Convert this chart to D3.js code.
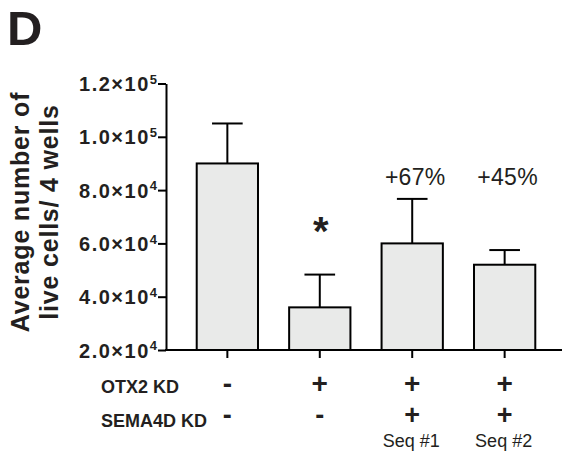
<!DOCTYPE html>
<html>
<head>
<meta charset="utf-8">
<script src="https://cdn.jsdelivr.net/npm/d3@7"></script>
<style>
  html, body { margin: 0; padding: 0; background: #fff; }
  svg { display: block; font-family: "Liberation Sans", Arial, Helvetica, sans-serif; }
</style>
</head>
<body>
<svg id="chart" width="562" height="453"></svg>
<script>
// ---- data ----
const categories = ["Control", "OTX2 KD", "OTX2+SEMA4D Seq1", "OTX2+SEMA4D Seq2"];
const means = [90000, 36000, 60000, 52000];
const errors = [15000, 12300, 16700, 5500];
const tickValues = [20000, 40000, 60000, 80000, 100000, 120000];
const tickMantissa = ["2.0", "4.0", "6.0", "8.0", "1.0", "1.2"];
const tickExponent = ["4", "4", "4", "4", "5", "5"];
const otx2Row = ["-", "+", "+", "+"];
const sema4dRow = ["-", "-", "+", "+"];
const seqLabels = ["", "", "Seq #1", "Seq #2"];
const pctLabels = ["", "", "+67%", "+45%"];
const sigLabels = ["", "*", "", ""];
const rowLabels = ["OTX2 KD", "SEMA4D KD"];
const yTitle = ["Average number of", "live cells/ 4 wells"];
const panelLetter = "D";

// ---- layout ----
const svg = d3.select("#chart");
const axisX = 166;
const ink = "#231f20";
const y = d3.scaleLinear().domain([20000, 120000]).range([350, 83.5]);
const x = d3.scaleBand().domain(categories).range([181, 551]).paddingInner(0.337).paddingOuter(0.17);
const cx = c => x(c) + x.bandwidth() / 2;

// panel letter
svg.append("text").attr("x", 7).attr("y", 45)
  .attr("font-size", 49).attr("font-weight", "bold").attr("fill", ink)
  .text(panelLetter);

// y title
const yt = svg.append("g").attr("transform", "translate(0,212)");
yt.append("text").attr("transform", "translate(29,0) rotate(-90)")
  .attr("text-anchor", "middle").attr("font-size", 25).attr("font-weight", "bold")
  .attr("letter-spacing", 0.8).attr("fill", ink)
  .text(yTitle[0]);
yt.append("text").attr("transform", "translate(58,0) rotate(-90)")
  .attr("text-anchor", "middle").attr("font-size", 25).attr("font-weight", "bold")
  .attr("letter-spacing", 0.8).attr("fill", ink)
  .text(yTitle[1]);

// bars
const bars = svg.append("g");
bars.selectAll("rect").data(categories).join("rect")
  .attr("x", c => x(c)).attr("width", x.bandwidth())
  .attr("y", (c, i) => y(means[i])).attr("height", (c, i) => y(20000) - y(means[i]))
  .attr("fill", "#e9eae9").attr("stroke", "#000").attr("stroke-width", 2);

// error bars
const eb = svg.append("g").attr("stroke", "#000").attr("stroke-width", 2);
categories.forEach((c, i) => {
  eb.append("line").attr("x1", cx(c)).attr("x2", cx(c))
    .attr("y1", y(means[i])).attr("y2", y(means[i] + errors[i]));
  eb.append("line").attr("x1", cx(c) - x.bandwidth() / 4).attr("x2", cx(c) + x.bandwidth() / 4)
    .attr("y1", y(means[i] + errors[i])).attr("y2", y(means[i] + errors[i]));
});

// y axis
const yAxis = svg.append("g").attr("transform", `translate(${axisX},0)`)
  .call(d3.axisLeft(y).tickValues(tickValues).tickSize(8).tickSizeOuter(0).tickPadding(2).tickFormat(""));
yAxis.select(".domain").attr("stroke", "#000").attr("stroke-width", 2);
yAxis.selectAll(".tick line").attr("stroke", "#000").attr("stroke-width", 2);
yAxis.selectAll(".tick").each(function(d, i) {
  const t = d3.select(this).append("text")
    .attr("x", -9).attr("y", 0).attr("dy", "0.35em")
    .attr("text-anchor", "end").attr("fill", ink)
    .attr("font-size", 20).attr("font-weight", "bold");
  t.append("tspan").attr("letter-spacing", 1.5).text(tickMantissa[i] + "×10");
  t.append("tspan").attr("font-size", 13).attr("dy", "-0.55em").text(tickExponent[i]);
});

// x axis
const xAxis = svg.append("g").attr("transform", "translate(0,350)");
xAxis.append("line").attr("x1", axisX - 1).attr("x2", 562).attr("stroke", "#000").attr("stroke-width", 2);
xAxis.selectAll("line.tk").data(categories).join("line").attr("class", "tk")
  .attr("x1", cx).attr("x2", cx).attr("y1", 0).attr("y2", 8)
  .attr("stroke", "#000").attr("stroke-width", 2);

// row labels
svg.append("text").attr("x", 101).attr("y", 392.5).attr("font-size", 18).attr("font-weight", "bold")
  .attr("fill", ink).text(rowLabels[0]);
svg.append("text").attr("x", 101).attr("y", 427).attr("font-size", 18).attr("font-weight", "bold")
  .attr("fill", ink).text(rowLabels[1]);

svg.append("g").selectAll("text").data(categories).join("text")
  .attr("x", c => cx(c)).attr("y", 392.5).attr("text-anchor", "middle")
  .attr("font-size", 28).attr("font-weight", "bold").attr("fill", ink)
  .text((c, i) => otx2Row[i]);
svg.append("g").selectAll("text").data(categories).join("text")
  .attr("x", c => cx(c)).attr("y", 424).attr("text-anchor", "middle")
  .attr("font-size", 27).attr("font-weight", "bold").attr("fill", ink)
  .text((c, i) => sema4dRow[i]);
svg.append("g").selectAll("text").data(categories).join("text")
  .attr("x", c => cx(c) - 1).attr("y", 446.5).attr("text-anchor", "middle")
  .attr("font-size", 18).attr("fill", ink)
  .text((c, i) => seqLabels[i]);

// percent labels
svg.append("g").selectAll("text").data(categories).join("text")
  .attr("x", c => cx(c) + 3).attr("y", 185).attr("text-anchor", "middle")
  .attr("font-size", 23).attr("letter-spacing", 0.3).attr("fill", ink)
  .text((c, i) => pctLabels[i]);

// significance
svg.append("g").selectAll("text").data(categories).join("text")
  .attr("x", c => cx(c) + 1).attr("y", 245).attr("text-anchor", "middle")
  .attr("font-size", 40).attr("font-weight", "bold").attr("fill", ink)
  .text((c, i) => sigLabels[i]);
</script>
</body>
</html>
